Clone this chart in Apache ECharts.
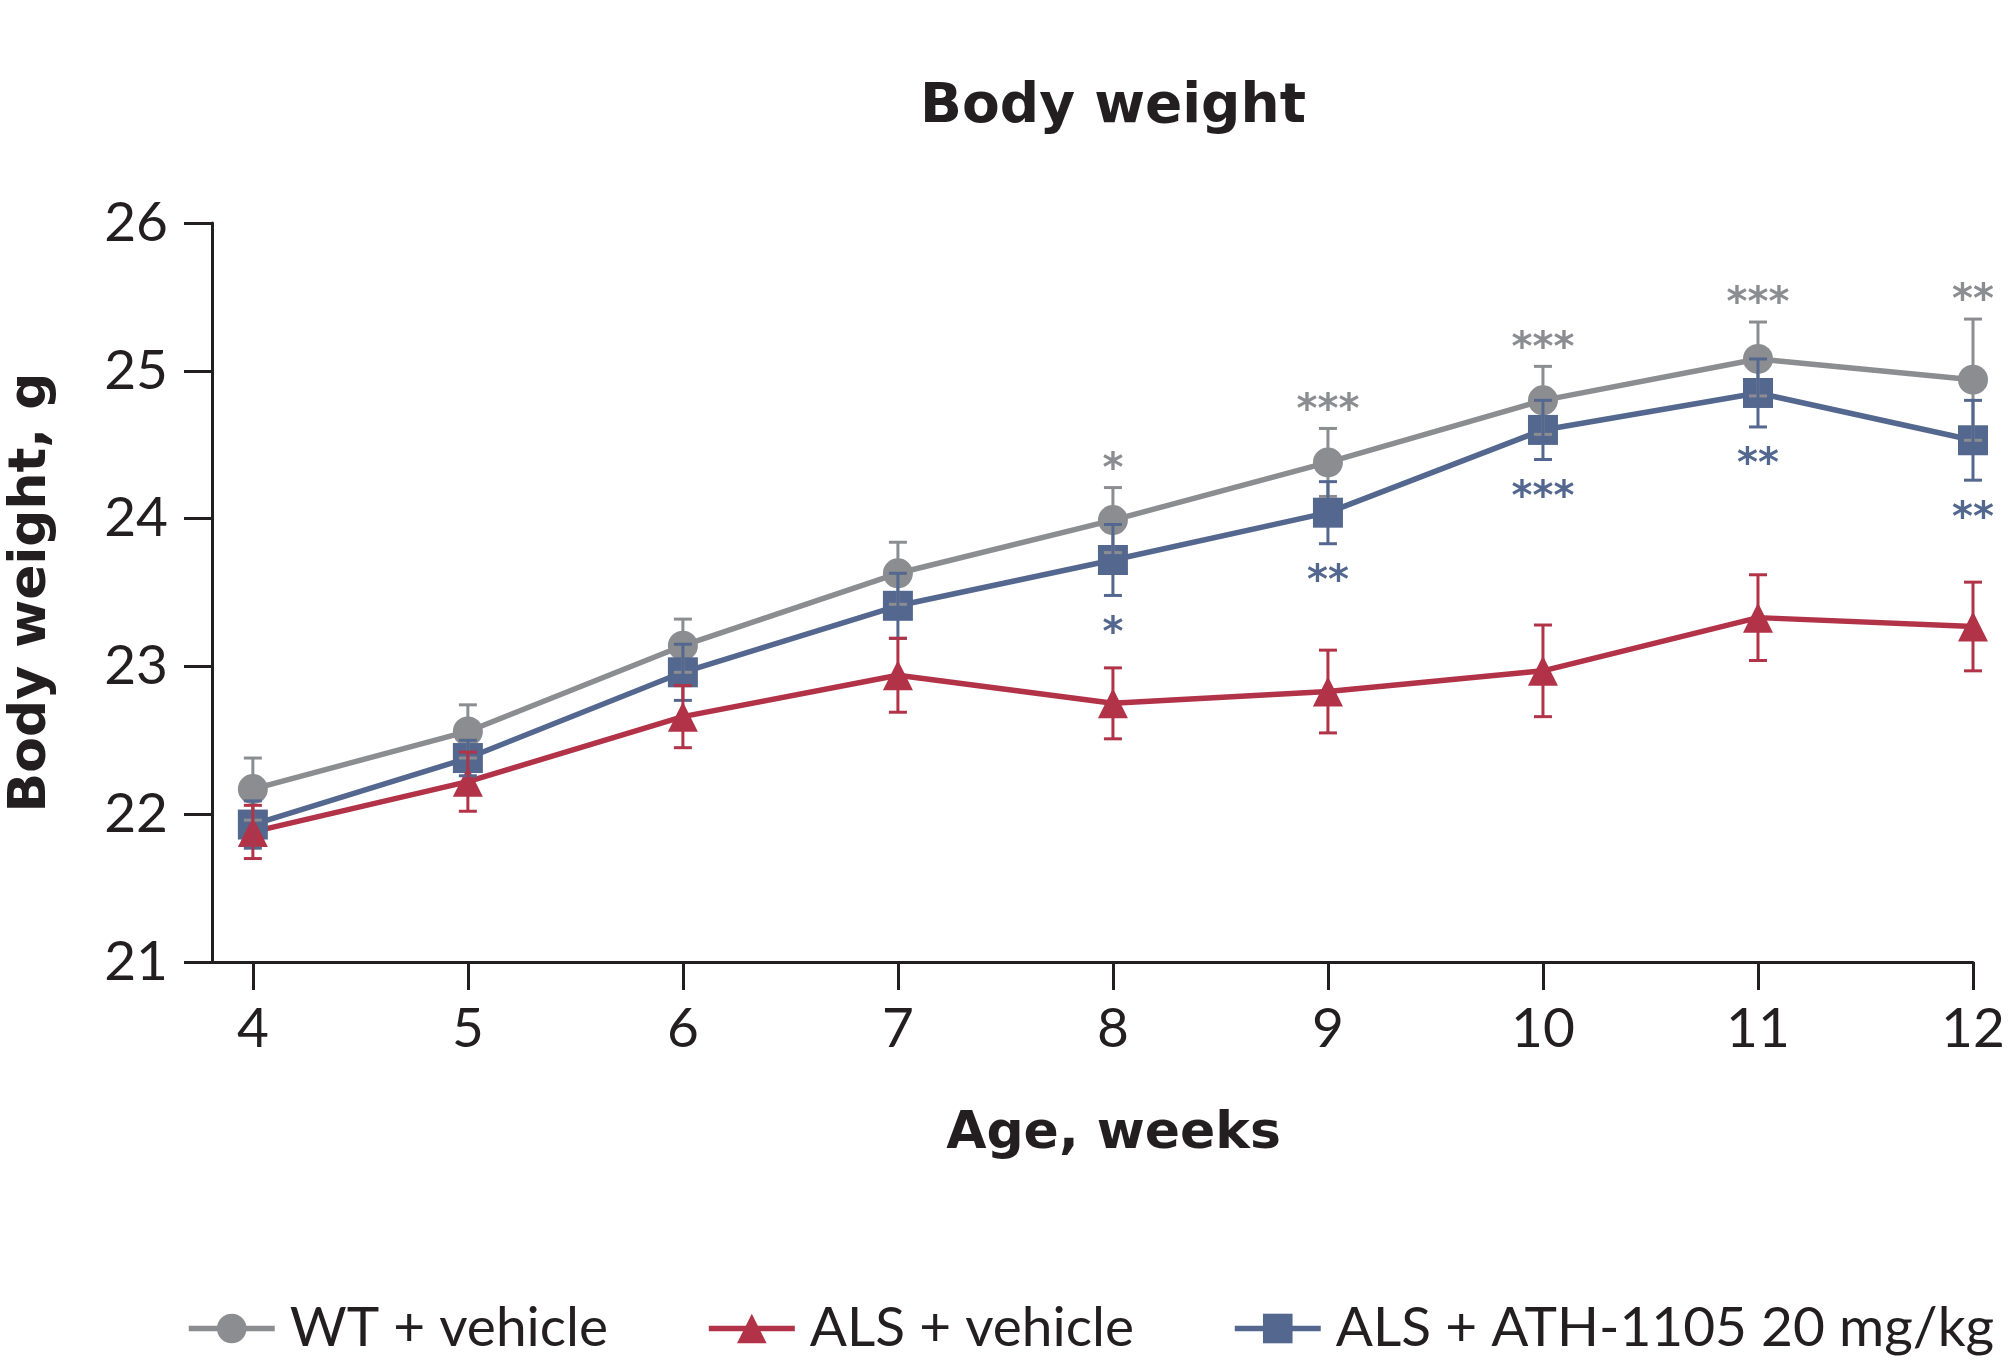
<!DOCTYPE html>
<html>
<head>
<meta charset="utf-8">
<script src="https://cdn.jsdelivr.net/npm/echarts@6/dist/echarts.min.js"></script>
<style>
  html, body { margin: 0; padding: 0; background: #ffffff; overflow: hidden; }
  #chart { width: 2009px; height: 1361px; }
</style>
</head>
<body>
<div id="chart"></div>
<script>
// Age in weeks
const weeks = [4, 5, 6, 7, 8, 9, 10, 11, 12];

// Mean body weight (g) and SEM per group
const wtMean  = [22.17, 22.56, 23.14, 23.63, 23.99, 24.38, 24.80, 25.08, 24.94];
const wtSem   = [0.21, 0.18, 0.18, 0.21, 0.22, 0.23, 0.23, 0.25, 0.41];
const alsMean = [21.88, 22.22, 22.66, 22.94, 22.75, 22.83, 22.97, 23.33, 23.27];
const alsSem  = [0.18, 0.20, 0.21, 0.25, 0.24, 0.28, 0.31, 0.29, 0.30];
const athMean = [21.93, 22.38, 22.96, 23.41, 23.72, 24.04, 24.60, 24.85, 24.53];
const athSem  = [0.16, 0.12, 0.19, 0.22, 0.24, 0.21, 0.20, 0.23, 0.27];

// Significance vs ALS + vehicle
const wtSig  = ['', '', '', '', '*', '***', '***', '***', '**'];
const athSig = ['', '', '', '', '*', '**', '***', '**', '**'];

// Axis ticks
const xTicks = [4, 5, 6, 7, 8, 9, 10, 11, 12];

const names = ['WT + vehicle', 'ALS + vehicle', 'ALS + ATH-1105 20 mg/kg'];
const GRAY = '#8c8d91', RED = '#b23347', BLUE = '#54688f', INK = '#231f20';
const FONT = 'Lato';
const BOLD_FONT = '"DejaVu Sans"';

function pairs(means) { return weeks.map((w, i) => [w, means[i]]); }

function lineSeries(name, means, color, symbol, size) {
  return {
    type: 'line', name: name, data: pairs(means),
    symbol: symbol, symbolSize: size, showSymbol: true,
    lineStyle: { color: color, width: 5.5 },
    itemStyle: { color: color },
    emphasis: { disabled: true },
    z: 2
  };
}

function errorBars(name, means, sems, color) {
  return {
    type: 'custom', name: name, silent: true, z: 4,
    data: weeks.map((w, i) => [w, means[i] - sems[i], means[i] + sems[i]]),
    encode: { x: 0, y: [1, 2] },
    renderItem: function (params, api) {
      const x = api.value(0);
      const lo = api.coord([x, api.value(1)]);
      const hi = api.coord([x, api.value(2)]);
      const hw = 9;
      const style = { stroke: color, lineWidth: 3, fill: null };
      return {
        type: 'group',
        children: [
          { type: 'line', shape: { x1: lo[0], y1: lo[1], x2: hi[0], y2: hi[1] }, style: style },
          { type: 'line', shape: { x1: lo[0] - hw, y1: lo[1], x2: lo[0] + hw, y2: lo[1] }, style: style },
          { type: 'line', shape: { x1: hi[0] - hw, y1: hi[1], x2: hi[0] + hw, y2: hi[1] }, style: style }
        ]
      };
    }
  };
}

// Asterisks placed just beyond the end of an error bar (dir +1 above, -1 below)
function sigMarks(name, means, sems, marks, color, dir, gap) {
  return {
    type: 'custom', name: name, silent: true, z: 5,
    data: weeks.map((w, i) => [w, means[i] + dir * sems[i]]),
    encode: { x: 0, y: 1 },
    renderItem: function (params, api) {
      const p = api.coord([api.value(0), api.value(1)]);
      return {
        type: 'text',
        x: p[0], y: p[1] - dir * gap,
        style: {
          text: marks[params.dataIndex],
          fill: color,
          font: 'bold 40px ' + BOLD_FONT,
          textAlign: 'center',
          textVerticalAlign: 'middle'
        }
      };
    }
  };
}

const chart = echarts.init(document.getElementById('chart'), null, { renderer: 'canvas' });

chart.setOption({
  animation: false,
  backgroundColor: '#ffffff',
  textStyle: { fontFamily: FONT, color: INK },
  grid: { left: 212, right: 36, top: 223, bottom: 399, containLabel: false, outerBoundsMode: 'none' },
  graphic: [{
    type: 'text', x: 1113, y: 108,
    style: {
      text: 'Body weight', fill: INK,
      font: 'bold 55px ' + BOLD_FONT,
      textAlign: 'center', textVerticalAlign: 'middle'
    }
  }],
  legend: {
    data: names,
    left: 186, top: 1301, width: 1823, padding: 0,
    itemGap: 98, itemWidth: 86, itemHeight: 37,
    selectedMode: false,
    lineStyle: { width: 5.5 },
    textStyle: { fontSize: 55, color: INK, fontFamily: FONT, padding: [0, 0, 0, 10] }
  },
  xAxis: {
    type: 'value', min: 3.81, max: 12,
    name: 'Age, weeks', nameLocation: 'middle', nameGap: 146,
    nameTextStyle: { fontSize: 52, fontWeight: 'bold', color: INK, fontFamily: BOLD_FONT, padding: [0, 0, 0, 42] },
    splitLine: { show: false },
    axisLine: { show: true, lineStyle: { color: INK, width: 3 } },
    axisTick: { show: true, length: 28, customValues: xTicks, lineStyle: { color: INK, width: 3 } },
    axisLabel: { customValues: xTicks, fontSize: 55, color: INK, fontFamily: FONT, margin: 40 }
  },
  yAxis: {
    type: 'value', min: 21, max: 26, interval: 1,
    name: 'Body weight, g', nameLocation: 'middle', nameGap: 155,
    nameTextStyle: { fontSize: 52, fontWeight: 'bold', color: INK, fontFamily: BOLD_FONT },
    splitLine: { show: false },
    axisLine: { show: true, lineStyle: { color: INK, width: 3 } },
    axisTick: { show: true, length: 28, lineStyle: { color: INK, width: 3 } },
    axisLabel: { fontSize: 55, color: INK, fontFamily: FONT, margin: 44 }
  },
  series: [
    lineSeries(names[0], wtMean, GRAY, 'circle', 30),
    lineSeries(names[2], athMean, BLUE, 'rect', 30),
    lineSeries(names[1], alsMean, RED, 'triangle', 30),
    errorBars('wt-sem', wtMean, wtSem, GRAY),
    errorBars('ath-sem', athMean, athSem, BLUE),
    errorBars('als-sem', alsMean, alsSem, RED),
    sigMarks('wt-sig', wtMean, wtSem, wtSig, GRAY, 1, 17),
    sigMarks('ath-sig', athMean, athSem, athSig, BLUE, -1, 39)
  ]
});
</script>
</body>
</html>
